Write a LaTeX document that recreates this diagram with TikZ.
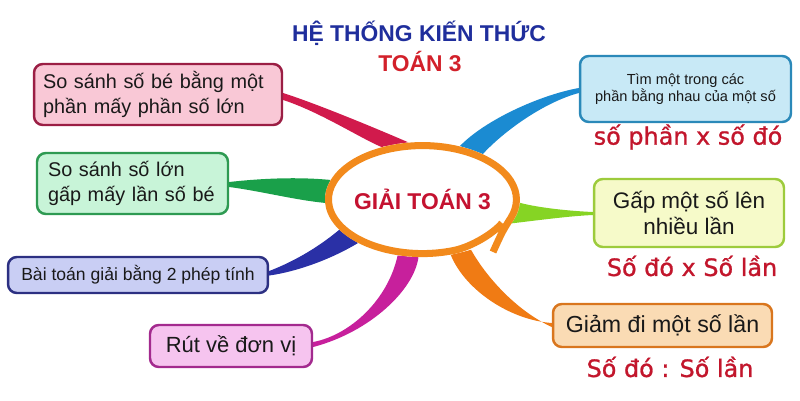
\documentclass[tikz,border=0pt]{standalone}
\usepackage{fontspec}
\setmainfont{Liberation Sans}
\newfontfamily\formfont[FakeBold=1]{DejaVu Sans}
\usetikzlibrary{positioning}
\usetikzlibrary{shapes.geometric, backgrounds}

\definecolor{titleblue}{HTML}{1F2E9C}
\definecolor{titlered}{HTML}{D2202A}
\definecolor{hubred}{HTML}{C41230}
\definecolor{hubring}{HTML}{F28A1C}
\definecolor{formred}{HTML}{C2162C}
\definecolor{pinkfill}{HTML}{F9C8D6}
\definecolor{pinkline}{HTML}{9B1E44}
\definecolor{crimsonbr}{HTML}{D11A4C}
\definecolor{greenfill}{HTML}{C8F4D8}
\definecolor{greenline}{HTML}{2E9A52}
\definecolor{greenbr}{HTML}{1AA04A}
\definecolor{navyfill}{HTML}{C9CEF4}
\definecolor{navyline}{HTML}{2C3082}
\definecolor{navybr}{HTML}{2A30A6}
\definecolor{magfill}{HTML}{F6C4EF}
\definecolor{magline}{HTML}{A32A8E}
\definecolor{magbr}{HTML}{C7209C}
\definecolor{cyanfill}{HTML}{C8E9F6}
\definecolor{cyanline}{HTML}{2B89B9}
\definecolor{cyanbr}{HTML}{1B8BD2}
\definecolor{limefill}{HTML}{F6FAC9}
\definecolor{limeline}{HTML}{9DCB3C}
\definecolor{limebr}{HTML}{86D424}
\definecolor{tanfill}{HTML}{FADBB4}
\definecolor{tanline}{HTML}{D9761E}
\definecolor{tanbr}{HTML}{F07B14}

\begin{document}
\begin{tikzpicture}[x=0.02cm,y=0.02cm,
  topic/.style={rectangle,rounded corners=5pt,line width=1.4pt,text=black!90,inner sep=0pt},
  formula/.style={font=\formfont\fontsize{13.6}{16}\selectfont,text=formred,inner sep=0pt}]
\useasboundingbox (0,0) rectangle (800,400);

\node[font=\fontsize{13}{15}\selectfont\bfseries,text=titleblue] (title) at (419,367) {HỆ THỐNG KIẾN THỨC};
\node[font=\fontsize{13}{15}\selectfont\bfseries,text=titlered] (subtitle) at (420,338) {TOÁN 3};

% left side
\node[topic,draw=pinkline,fill=pinkfill,minimum width=4.96cm,minimum height=1.22cm,text width=4.6cm,align=left,font=\fontsize{11.3}{14.2}\selectfont] (smaller) at (158,305.5) {So sánh số bé bằng một\\phần mấy phần số lớn};
\node[topic,draw=greenline,fill=greenfill,minimum width=3.82cm,minimum height=1.22cm,text width=3.38cm,align=left,font=\fontsize{11.3}{14.2}\selectfont] (larger) at (132.5,216.5) {So sánh số lớn\\gấp mấy lần số bé};
\node[topic,draw=navyline,fill=navyfill,minimum width=5.2cm,minimum height=0.72cm,font=\fontsize{10}{12}\selectfont] (twostep) at (138,125) {Bài toán giải bằng 2 phép tính};
\node[topic,draw=magline,fill=magfill,minimum width=3.24cm,minimum height=0.84cm,font=\fontsize{12.5}{15}\selectfont] (unitrule) at (231,54) {Rút về đơn vị};

% right side
\node[topic,draw=cyanline,fill=cyanfill,minimum width=4.22cm,minimum height=1.32cm,align=center,font=\fontsize{8.3}{9.6}\selectfont] (equalpart) at (685.5,311) {Tìm một trong các\\phần bằng nhau của một số};
\node[formula] (partrule) at (688,263) {số phần x số đó};
\node[topic,draw=limeline,fill=limefill,minimum width=3.8cm,minimum height=1.36cm,align=center,font=\fontsize{12.8}{14.7}\selectfont] (multiply) at (689,187) {Gấp một số lên\\nhiều lần};
\node[formula] (multrule) at (692,134) {Số đó x Số lần};
\node[topic,draw=tanline,fill=tanfill,minimum width=4.38cm,minimum height=0.86cm,font=\fontsize{13.2}{15}\selectfont] (divide) at (662.5,74.5) {Giảm đi một số lần};
\node[formula] (divrule) at (670,33) {Số đó : Số lần};

% centre
\node[ellipse,fill=white,inner sep=0pt,minimum width=3.9cm,minimum height=2.3cm,text=hubred,font=\fontsize{13}{15}\selectfont\bfseries] (hub) at (422.5,200.5) {GIẢI TOÁN 3};
\draw[hubring,line width=4pt] (502,177) .. controls (494,167) and (472,153.5) .. (454.6,149.7)
  arc[start angle=-70,end angle=-380,x radius=1.88cm,y radius=1.08cm]
  .. controls (502.3,168.5) .. (493,148);

\begin{scope}[on background layer]
\fill[crimsonbr] ([shift={(0,1.5)}]smaller.east) .. controls (320,295) and (375,272) .. (hub.104) -- (hub.128) .. controls (360,262) and (320,288) .. ([shift={(0,-5.5)}]smaller.east) -- cycle;
\fill[greenbr] ([shift={(0,1.5)}]larger.east) .. controls (265,222) and (300,223) .. (hub.168) -- (hub.182) .. controls (295,200) and (260,209) .. ([shift={(0,-3.5)}]larger.east) -- cycle;
\fill[navybr] ([shift={(0,4)}]twostep.east) .. controls (290,137) and (315,150) .. (hub.200) -- (hub.214) .. controls (330,140) and (295,128) .. ([shift={(0,-0.5)}]twostep.east) -- cycle;
\fill[magbr] ([shift={(0,4)}]unitrule.east) .. controls (350,65) and (388,100) .. (hub.246) -- (hub.266) .. controls (414,110) and (370,68) .. ([shift={(0,-1)}]unitrule.east) -- cycle;
\fill[cyanbr] (hub.55) .. controls (485,280) and (540,305) .. ([shift={(0,1)}]equalpart.west) -- ([shift={(0,-4)}]equalpart.west) .. controls (545,298) and (505,270) .. (hub.37) -- cycle;
\fill[limebr] (hub.358) .. controls (540,192) and (570,189) .. ([shift={(0,1)}]multiply.west) -- ([shift={(0,-2)}]multiply.west) .. controls (570,184) and (540,180) .. (hub.345) -- cycle;
\fill[tanbr] (hub.297) .. controls (465,110) and (510,80) .. ([shift={(0,2.5)}]divide.west) -- ([shift={(0,-1.5)}]divide.west) .. controls (515,90) and (485,125) .. (hub.314) -- cycle;
\end{scope}

\end{tikzpicture}
\end{document}
